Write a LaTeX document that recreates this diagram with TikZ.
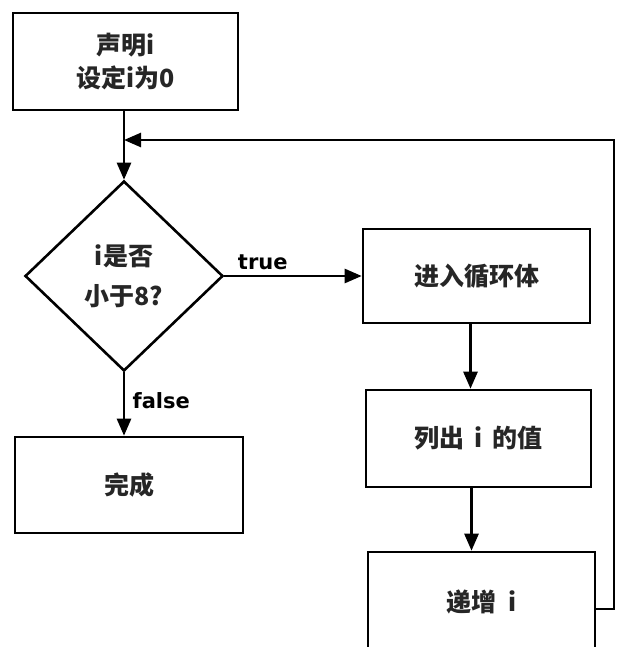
\documentclass[tikz,border=0pt]{standalone}
\usepackage{fontspec}
\setmainfont{Noto Sans CJK SC}
\newfontfamily\labfont{DejaVu Sans}
\usetikzlibrary{shapes.geometric,arrows.meta,calc}
\begin{document}
\begin{tikzpicture}[x=1pt,y=-1pt,
  box/.style={draw,line width=2.6pt,rectangle,align=center,inner sep=0pt,
    font=\fontsize{25}{33}\selectfont\bfseries, text=black!85},
  dia/.style={draw,line width=2.6pt,diamond,align=center,inner sep=0pt,
    minimum width=198pt,minimum height=190pt,
    font=\fontsize{25}{40}\selectfont\bfseries, text=black!85},
  arr/.style={line width=2.6pt,-{Triangle[length=17pt,width=14pt]}},
  lab/.style={font=\labfont\fontsize{21}{24}\selectfont\bfseries}]
\useasboundingbox (0,0) rectangle (627,647);
\clip (0,0) rectangle (627,647);
\fill[white] (0,0) rectangle (627,647);
\node[box,minimum width=225pt,minimum height=97pt] (decl) at (125.5,61.5) {声明i\\设定i为0};
\node[dia] (cond) at (124,276) {i是否\\小于8?};
\node[box,minimum width=228pt,minimum height=96pt] (done) at (129,485) {完成};
\node[box,minimum width=227pt,minimum height=94pt] (loop) at (476.5,276) {进入循环体};
\node[box,minimum width=225pt,minimum height=97pt] (print) at (478.5,438.5) {列出\,\ i\ \,的值};
\node[box,minimum width=227pt,minimum height=100pt] (inc) at (481.5,602) {递增\ \ i};
\coordinate (j) at (124,140);
\coordinate (rc) at (614,140);
\draw[arr] (decl.south -| cond.north) -- (cond.north);
\draw[arr] (cond.east) -- node[lab,above,pos=0.28,yshift=2pt]{true} (loop.west);
\draw[arr] (cond.south) -- node[lab,right,pos=0.45,xshift=4pt]{false} (cond.south |- done.north);
\draw[arr] ([xshift=-6pt]loop.south) -- ([xshift=-6pt]loop.south |- print.north);
\draw[arr] ([xshift=-7pt]print.south) -- ([xshift=-7pt]print.south |- inc.north);
\draw[arr] ([yshift=-7pt]inc.east) -| (rc) -- (j);
\end{tikzpicture}
\end{document}
